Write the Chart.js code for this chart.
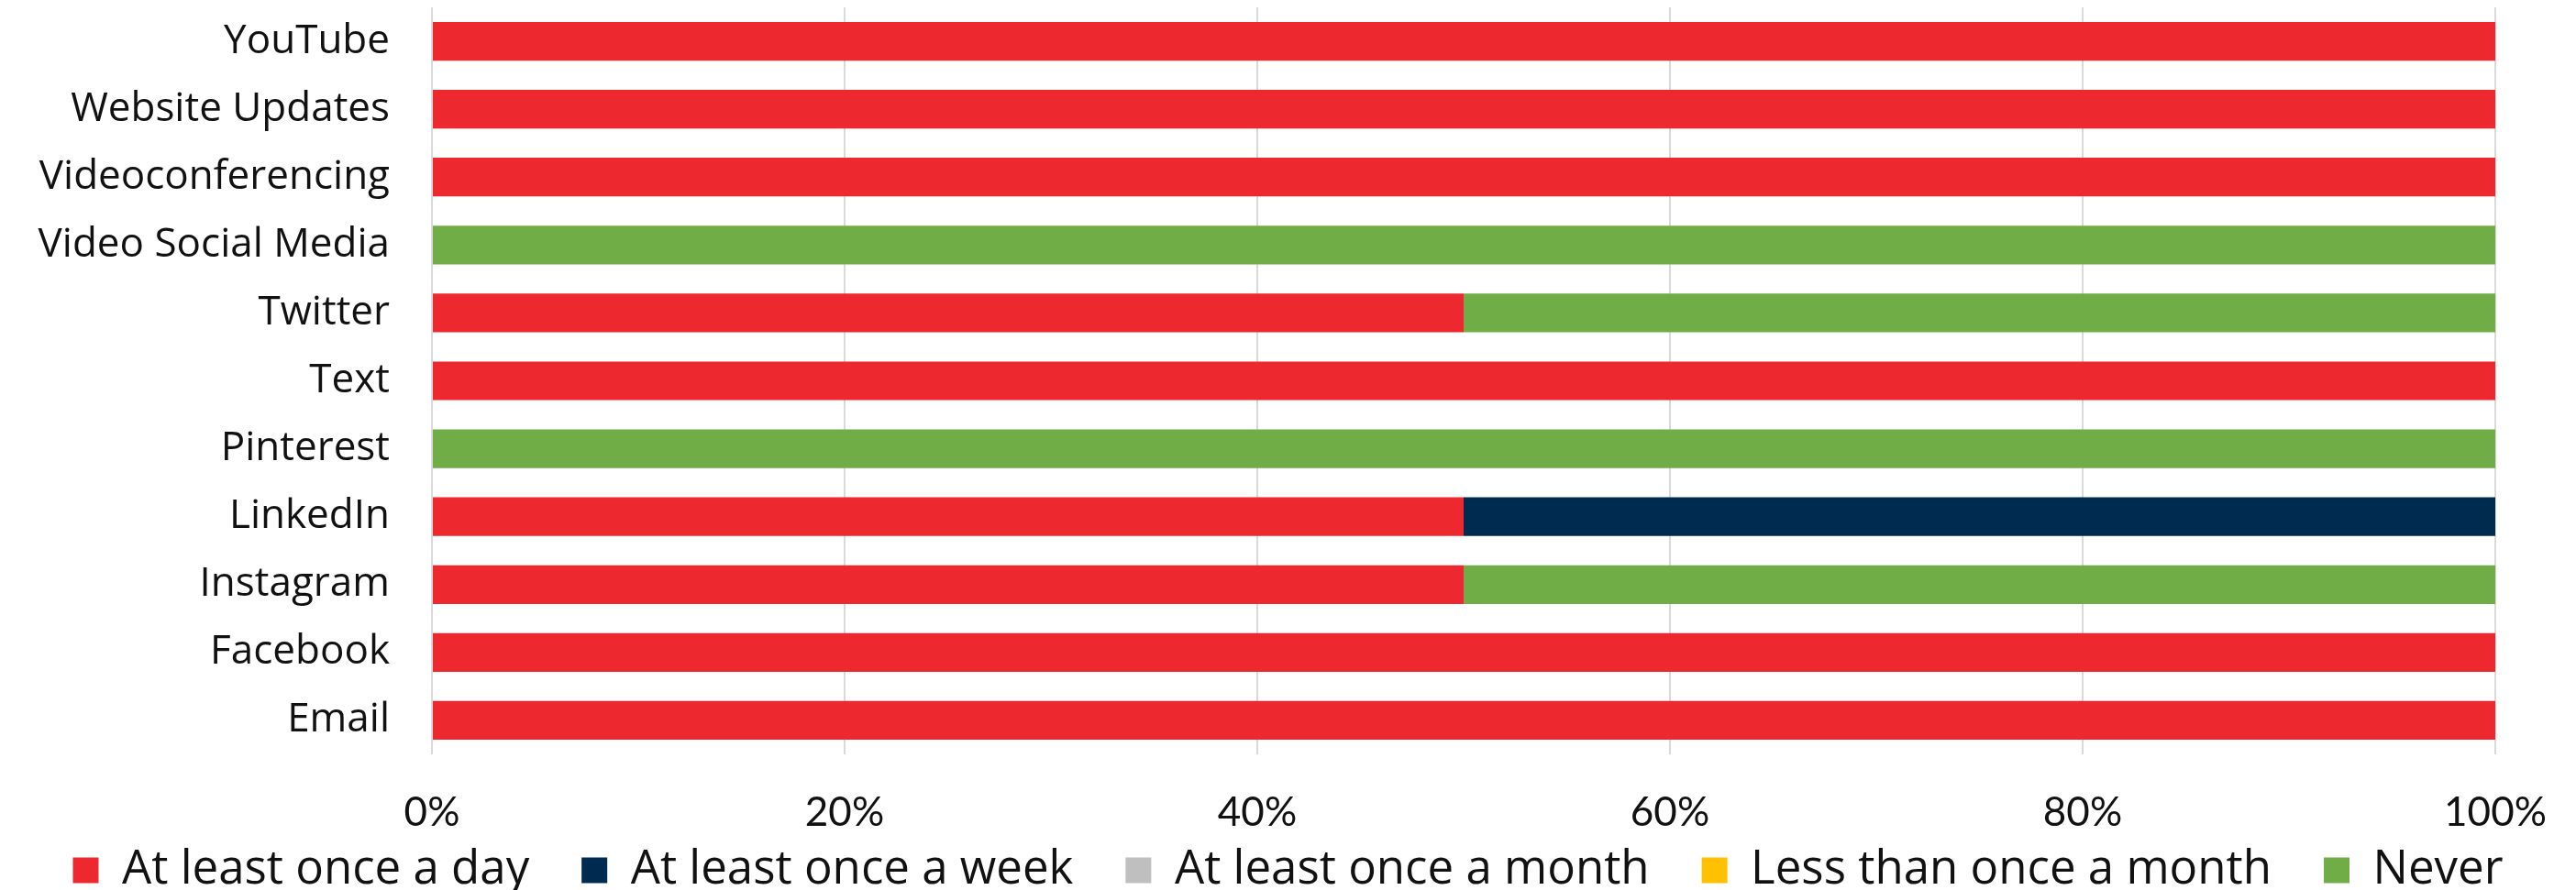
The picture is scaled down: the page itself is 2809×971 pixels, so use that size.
<!DOCTYPE html>
<html>
<head>
<meta charset="utf-8">
<script src="https://cdn.jsdelivr.net/npm/chart.js@4"></script>
<style>
  html, body { margin: 0; padding: 0; background: #fff; }
  #wrap { width: 2809px; height: 971px; }
</style>
</head>
<body>
<div id="wrap"><canvas id="usageChart" width="2809" height="971"></canvas></div>
<script>
// categories, top to bottom
const channels = ['YouTube', 'Website Updates', 'Videoconferencing', 'Video Social Media', 'Twitter',
    'Text', 'Pinterest', 'LinkedIn', 'Instagram', 'Facebook', 'Email'];

// share of respondents (%) per frequency
const dailyValues   = [100, 100, 100, 0, 50, 100, 0, 50, 50, 100, 100];
const weeklyValues  = [0, 0, 0, 0, 0, 0, 0, 50, 0, 0, 0];
const monthlyValues = [0, 0, 0, 0, 0, 0, 0, 0, 0, 0, 0];
const rarelyValues  = [0, 0, 0, 0, 0, 0, 0, 0, 0, 0, 0];
const neverValues   = [0, 0, 0, 100, 50, 0, 100, 0, 50, 0, 0];

const seriesNames = ['At least once a day', 'At least once a week', 'At least once a month',
    'Less than once a month', 'Never'];
const seriesColors = ['#ED282E', '#002B50', '#BFBFBF', '#FFC000', '#70AD47'];

const xTicks = [0, 20, 40, 60, 80, 100];

const textFont = '"Open Sans", Lato, sans-serif';
const tickFont = 'Lato, "Open Sans", sans-serif';
const textColor = '#111111';

// legend padding is also vertical, so the gap between items comes from trailing spaces
const legendGap = '    ';

const seriesValues = [dailyValues, weeklyValues, monthlyValues, rarelyValues, neverValues];

const datasets = seriesNames.map((name, i) => ({
    label: name,
    data: seriesValues[i],
    backgroundColor: seriesColors[i],
    borderWidth: 0,
    barPercentage: 0.57,
    categoryPercentage: 1.0
}));

const ctx = document.getElementById('usageChart').getContext('2d');
new Chart(ctx, {
    type: 'bar',
    data: {
        labels: channels,
        datasets: datasets
    },
    options: {
        indexAxis: 'y',
        responsive: false,
        animation: false,
        layout: {
            padding: { left: 0, right: 0, top: 8, bottom: -14 }
        },
        scales: {
            x: {
                stacked: true,
                min: 0,
                max: 100,
                afterBuildTicks: function (axis) {
                    axis.ticks = xTicks.map(v => ({ value: v }));
                },
                afterFit: function (axis) {
                    axis.height = 97;
                    // keep the plot off the right edge, legend stays centred on the canvas
                    axis.paddingRight = 88;
                },
                grid: {
                    color: '#D9D9D9',
                    lineWidth: 2,
                    drawTicks: false
                },
                border: { display: false },
                ticks: {
                    padding: 37,
                    color: textColor,
                    font: { family: tickFont, size: 44 },
                    callback: function (value) {
                        return value + '%';
                    }
                }
            },
            y: {
                stacked: true,
                grid: { display: false, drawTicks: false },
                border: { display: false },
                afterFit: function (axis) {
                    axis.width = 471;
                    axis.paddingTop = 0;
                    axis.paddingBottom = 0;
                },
                ticks: {
                    padding: 46,
                    color: textColor,
                    font: { family: textFont, size: 44 }
                }
            }
        },
        plugins: {
            legend: {
                display: true,
                position: 'bottom',
                labels: {
                    boxWidth: 28,
                    boxHeight: 28,
                    padding: 4,
                    color: textColor,
                    font: { family: textFont, size: 51 },
                    generateLabels: function (chart) {
                        const items = Chart.defaults.plugins.legend.labels.generateLabels(chart);
                        items.forEach((item, i) => {
                            if (i < items.length - 1) {
                                item.text = item.text + legendGap;
                            }
                        });
                        return items;
                    }
                }
            },
            tooltip: { enabled: false }
        }
    }
});
</script>
</body>
</html>
